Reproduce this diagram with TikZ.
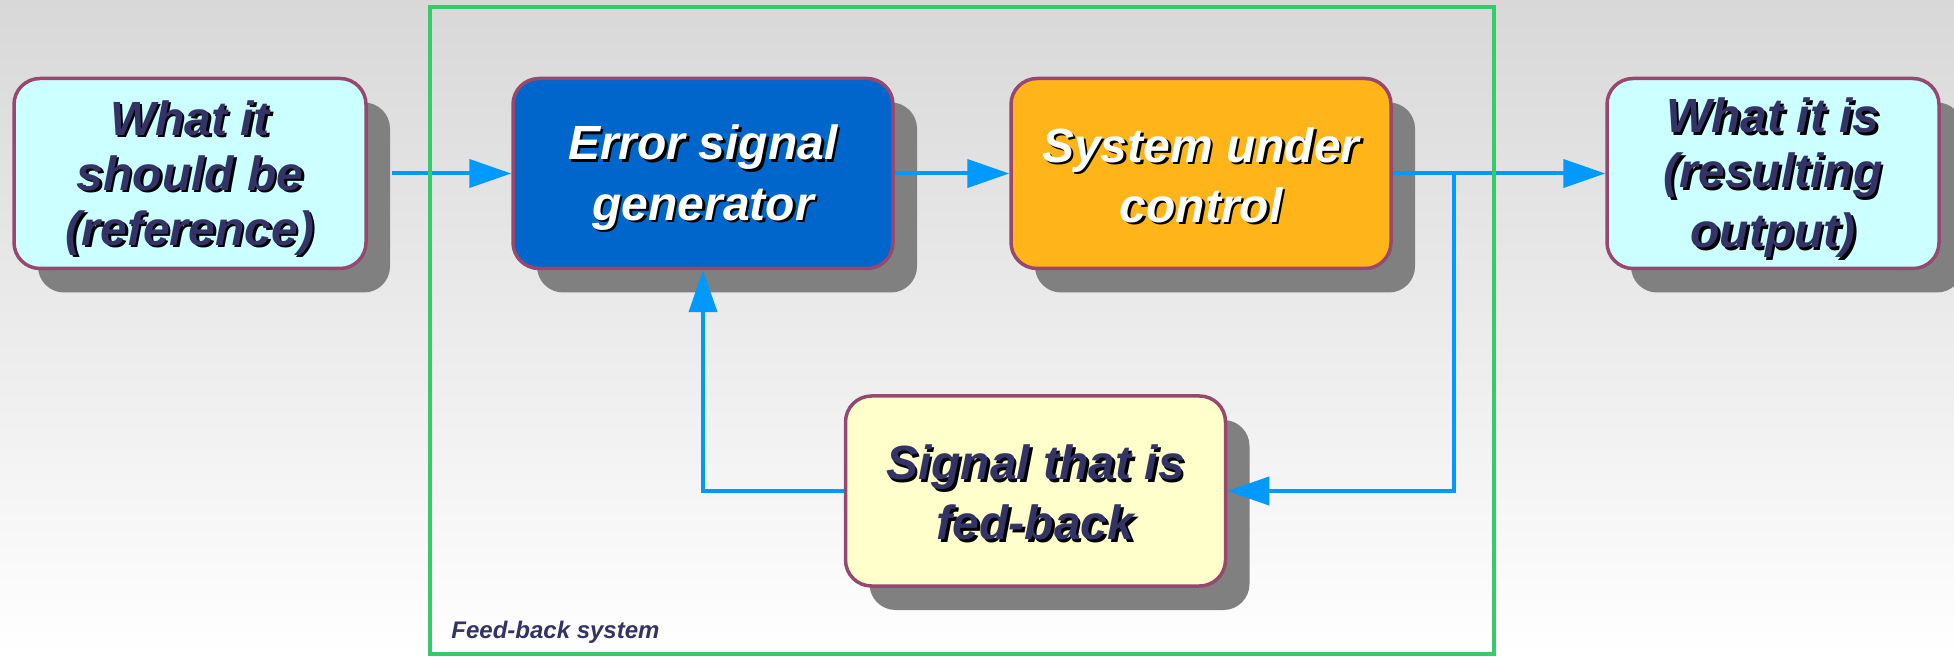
\documentclass[tikz,border=0pt]{standalone}
\usepackage{fontspec}
\setmainfont{Liberation Sans}
\usetikzlibrary{shadows,arrows.meta}

\definecolor{bgtop}{RGB}{216,216,216}
\definecolor{edge}{RGB}{150,72,110}
\definecolor{cyanfill}{RGB}{204,255,255}
\definecolor{bluefill}{RGB}{0,102,204}
\definecolor{orangefill}{RGB}{255,180,26}
\definecolor{creamfill}{RGB}{255,255,204}
\definecolor{shadowgray}{RGB}{128,128,128}
\definecolor{wire}{RGB}{0,153,255}
\definecolor{framegreen}{RGB}{51,204,102}
\definecolor{navy}{RGB}{51,51,102}

% one line of text with a black drop shadow behind it; the strut gives
% every line the same height and depth
\newcommand\sht[1]{\rule[-4pt]{0pt}{26.8pt}\rlap{\kern1.3pt\raisebox{-1.3pt}{\color{black}#1}}#1}

\tikzset{
  blockbox/.style={draw=edge, line width=1.75pt, rounded corners=13pt,
    minimum height=95pt, inner sep=0pt, align=center,
    font=\fontsize{24}{27.5}\selectfont\bfseries\itshape,
    drop shadow={shadow xshift=12pt, shadow yshift=-12pt,
      fill=shadowgray, opacity=1}},
  darktext/.style={text=navy},
  lighttext/.style={text=white},
  wirearrow/.style={draw=wire, line width=2pt,
    -{Triangle[length=21pt,width=14pt]}},
  frameline/.style={draw=framegreen, line width=1.6pt},
  caption/.style={text=navy, inner sep=0pt,
    font=\fontsize{12}{14}\selectfont\bfseries\itshape},
}

\begin{document}
\begin{tikzpicture}[x=0.5pt,y=-0.5pt]
  \useasboundingbox (0,0) rectangle (1954,657);
  \fill[top color=bgtop, bottom color=white] (0,0) rectangle (1954,657);

  % blocks
  \node[blockbox, darktext, fill=cyanfill, minimum width=176pt] (ref) at (190,173.5)
    {\sht{What it}\\\sht{should be}\\\sht{(reference)}};
  \node[blockbox, lighttext, fill=bluefill, minimum width=190pt] (err) at (703,173.5)
    {\sht{Error signal}\\\sht{generator}};
  \node[blockbox, lighttext, fill=orangefill, minimum width=190pt] (sys) at (1201,173.5)
    {\sht{System under}\\\sht{control}};
  \node[blockbox, darktext, fill=cyanfill, minimum width=166pt] (out) at (1773,173.5)
    {\sht{What it is}\\\sht{(resulting}\\\sht{output)}};
  \node[blockbox, darktext, fill=creamfill, minimum width=190pt] (fb) at (1035.5,491)
    {\sht{Signal that is}\\\sht{fed-back}};

  % signal paths
  \coordinate (tap) at (1454,173.5);
  \draw[wirearrow] ([xshift=12pt]ref.east) -- (err.west);
  \draw[wirearrow] (err.east) -- (sys.west);
  \draw[wirearrow] (sys.east) -- (out.west);
  \draw[wirearrow] (tap) |- (fb.east);
  \draw[wirearrow] (fb.west) -| (err.south);

  % boundary of the feed-back system
  \draw[frameline] (430,7) rectangle (1494,654);
  \node[caption, anchor=base west] (sysname) at (451,638) {Feed-back system};
\end{tikzpicture}
\end{document}
